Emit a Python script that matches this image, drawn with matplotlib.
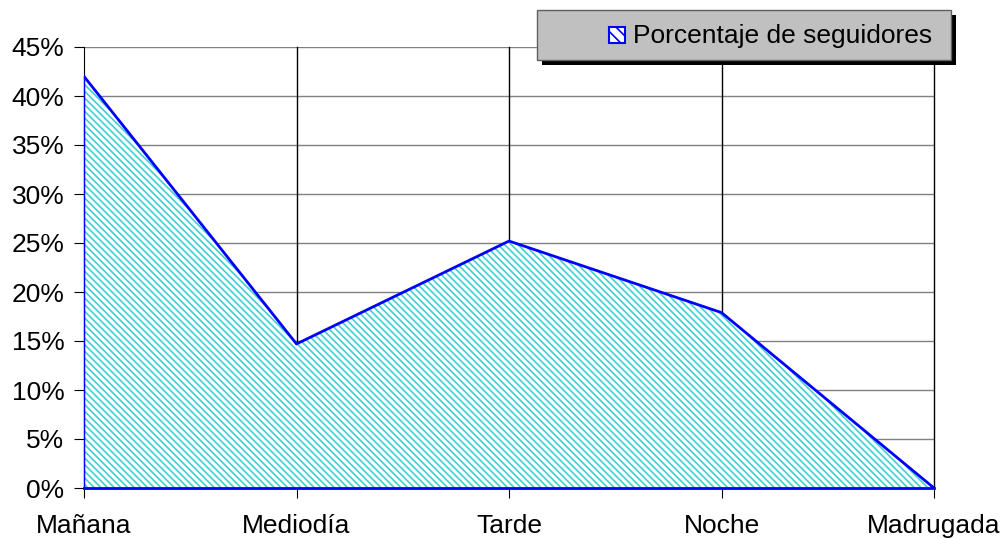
import matplotlib.pyplot as plt
from matplotlib.patches import Rectangle

plt.rcParams.update({
    "font.family": ["Liberation Sans", "DejaVu Sans"],
    "font.size": 19,
    "hatch.color": "#40d0d0",
    "hatch.linewidth": 1.2,
})

# Data
momentos = ["Mañana", "Mediodía", "Tarde", "Noche", "Madrugada"]
porcentaje = [42.0, 14.7, 25.2, 17.9, 0.0]
yticks = [0, 5, 10, 15, 20, 25, 30, 35, 40, 45]

fig = plt.figure(figsize=(10.06, 5.39), dpi=100)
ax = fig.add_axes([84 / 1006, 1 - 488 / 539, 850 / 1006, 441 / 539])

x = list(range(len(momentos)))
ax.fill_between(x, porcentaje, 0, facecolor="white", edgecolor="#40d0d0",
                hatch="\\\\\\\\\\", linewidth=0, zorder=2)
ax.plot(x, porcentaje, color="#0000ff", lw=2, zorder=3)
ax.plot([x[0], x[-1]], [0, 0], color="#0000ff", lw=2, zorder=3, clip_on=False)
ax.plot([x[0], x[0]], [0, porcentaje[0]], color="#0000ff", lw=1, zorder=3,
        clip_on=False)

ax.set_xlim(0, len(momentos) - 1)
ax.set_ylim(0, 45)
ax.set_xticks(x)
ax.set_xticklabels(momentos)
ax.set_yticks(yticks)
ax.set_yticklabels([f"{v}%" for v in yticks])
ax.tick_params(direction="out", length=7, color="black", pad=7)
ax.tick_params(axis="x", pad=12)

for v in yticks[1:]:
    ax.axhline(v, color="#808080", lw=1, zorder=1)
for xi in x[1:]:
    ax.axvline(xi, color="black", lw=1, zorder=1, clip_on=False)
for side in ["top", "right"]:
    ax.spines[side].set_visible(False)
ax.spines["left"].set_color("black")
ax.spines["bottom"].set_color("black")

# Legend box drawn by hand (Excel style with shadow)
def fx(px):
    return px / 1006

def fy(py):
    return 1 - py / 539

fig.patches.append(Rectangle((fx(542), fy(65)), 414 / 1006, 50 / 539,
                             transform=fig.transFigure, facecolor="black",
                             edgecolor="none", zorder=5))
fig.patches.append(Rectangle((fx(537), fy(60)), 414 / 1006, 50 / 539,
                             transform=fig.transFigure, facecolor="#c0c0c0",
                             edgecolor="#606060", lw=1, zorder=6))
fig.patches.append(Rectangle((fx(609), fy(43)), 16 / 1006, 16 / 539,
                             transform=fig.transFigure, facecolor="white",
                             edgecolor="#0000ff", lw=1.5, hatch="\\\\\\",
                             zorder=7))
fig.text(fx(633), fy(36), "Porcentaje de seguidores", fontsize=19,
         va="center", ha="left", zorder=8)

fig.savefig("out.png", dpi=100)
